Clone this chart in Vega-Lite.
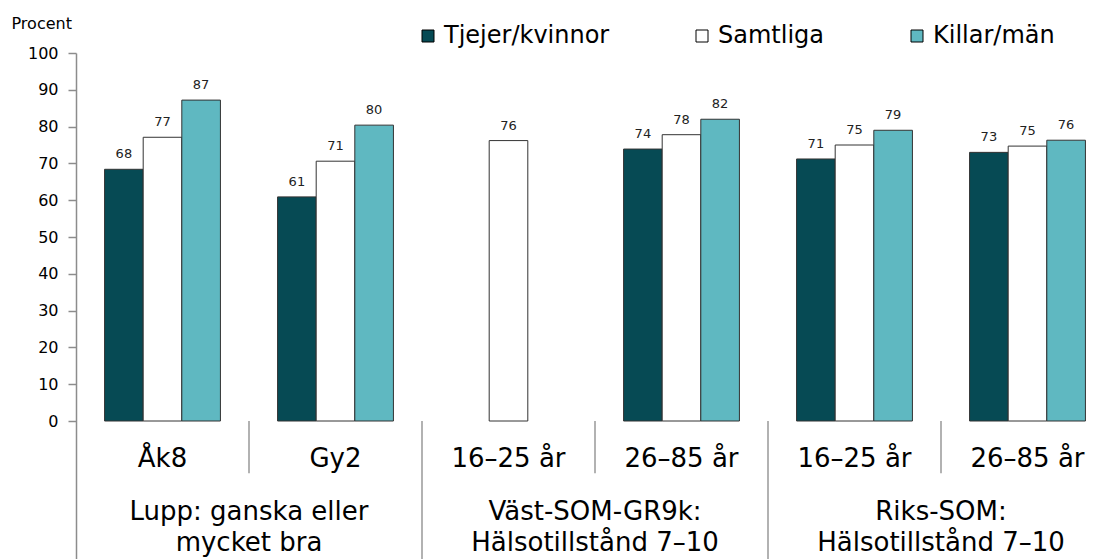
{
  "$schema": "https://vega.github.io/schema/vega-lite/v6.json",
  "width": 1031,
  "height": 506,
  "autosize": {"type": "none"},
  "padding": {"left": 76, "top": 53, "right": 0, "bottom": 0},
  "background": "#ffffff",
  "config": {"view": {"stroke": null}, "font": "DejaVu Sans"},
  "datasets": {
    "bars": [
      {"grp": "Åk8", "serie": "Tjejer/kvinnor", "value": 68.4},
      {"grp": "Åk8", "serie": "Samtliga", "value": 77.1},
      {"grp": "Åk8", "serie": "Killar/män", "value": 87.2},
      {"grp": "Gy2", "serie": "Tjejer/kvinnor", "value": 60.9},
      {"grp": "Gy2", "serie": "Samtliga", "value": 70.6},
      {"grp": "Gy2", "serie": "Killar/män", "value": 80.4},
      {"grp": "V16", "serie": "Samtliga", "value": 76.2},
      {"grp": "V26", "serie": "Tjejer/kvinnor", "value": 73.9},
      {"grp": "V26", "serie": "Samtliga", "value": 77.8},
      {"grp": "V26", "serie": "Killar/män", "value": 82.0},
      {"grp": "R16", "serie": "Tjejer/kvinnor", "value": 71.2},
      {"grp": "R16", "serie": "Samtliga", "value": 75.0},
      {"grp": "R16", "serie": "Killar/män", "value": 79.0},
      {"grp": "R26", "serie": "Tjejer/kvinnor", "value": 73.0},
      {"grp": "R26", "serie": "Samtliga", "value": 74.7},
      {"grp": "R26", "serie": "Killar/män", "value": 76.3}
    ],
    "cats": [
      {"grp": "Åk8", "label": "Åk8"},
      {"grp": "Gy2", "label": "Gy2"},
      {"grp": "V16", "label": "16–25 år"},
      {"grp": "V26", "label": "26–85 år"},
      {"grp": "R16", "label": "16–25 år"},
      {"grp": "R26", "label": "26–85 år"}
    ],
    "groups": [
      {"grp": "Gy2", "label": "Lupp: ganska eller\nmycket bra"},
      {"grp": "V26", "label": "Väst-SOM-GR9k:\nHälsotillstånd 7–10"},
      {"grp": "R26", "label": "Riks-SOM:\nHälsotillstånd 7–10"}
    ],
    "inner": [{"grp": "Gy2"}, {"grp": "V26"}, {"grp": "R26"}],
    "outer": [{"grp": "V16"}, {"grp": "R16"}]
  },
  "encoding": {
    "x": {
      "field": "grp",
      "type": "nominal",
      "axis": null,
      "scale": {
        "domain": ["Åk8", "Gy2", "V16", "V26", "R16", "R26"],
        "range": [0, 1038],
        "paddingInner": 0,
        "paddingOuter": 0
      }
    }
  },
  "layer": [
    {
      "data": {"name": "bars"},
      "mark": {"type": "bar", "stroke": "#333333", "strokeWidth": 1},
      "encoding": {
        "xOffset": {
          "field": "serie",
          "type": "nominal",
          "sort": ["Tjejer/kvinnor", "Samtliga", "Killar/män"],
          "scale": {"paddingInner": 0, "paddingOuter": 0.74}
        },
        "y": {
          "field": "value",
          "type": "quantitative",
          "scale": {"domain": [-37.5, 100], "nice": false, "zero": false},
          "axis": {
            "values": [0, 10, 20, 30, 40, 50, 60, 70, 80, 90, 100],
            "title": "Procent",
            "titleAngle": 0,
            "titleAlign": "left",
            "titleBaseline": "alphabetic",
            "titleX": -65,
            "titleY": -25,
            "titleFontSize": 16,
            "titleFontWeight": "normal",
            "titleColor": "#000000",
            "labelFontSize": 16,
            "labelColor": "#000000",
            "labelPadding": 10,
            "tickSize": 8,
            "tickColor": "#8c8c8c",
            "tickWidth": 1.5,
            "domainColor": "#8c8c8c",
            "domainWidth": 1.5,
            "grid": false
          }
        },
        "y2": {"datum": 0},
        "color": {
          "field": "serie",
          "type": "nominal",
          "sort": ["Tjejer/kvinnor", "Samtliga", "Killar/män"],
          "scale": {
            "domain": ["Tjejer/kvinnor", "Samtliga", "Killar/män"],
            "range": ["#064A54", "#FFFFFF", "#5FB8C1"]
          },
          "legend": {
            "orient": "none",
            "legendX": 340,
            "legendY": -29,
            "direction": "horizontal",
            "title": null,
            "symbolType": "square",
            "symbolSize": 144,
            "symbolStrokeColor": "#000000",
            "symbolStrokeWidth": 1,
            "symbolOpacity": 1,
            "labelFontSize": 24,
            "labelColor": "#000000",
            "labelOffset": 4,
            "columnPadding": 80,
            "labelLimit": 400
          }
        }
      }
    },
    {
      "data": {"name": "bars"},
      "mark": {"type": "text", "fontSize": 13, "color": "#222222", "baseline": "alphabetic", "dy": -11},
      "encoding": {
        "xOffset": {
          "field": "serie",
          "type": "nominal",
          "sort": ["Tjejer/kvinnor", "Samtliga", "Killar/män"],
          "scale": {"paddingInner": 0, "paddingOuter": 0.74}
        },
        "y": {"field": "value", "type": "quantitative"},
        "text": {"field": "value", "type": "quantitative", "format": ".0f"}
      }
    },
    {
      "mark": {"type": "rule", "color": "#8c8c8c", "strokeWidth": 2},
      "encoding": {"x": null, "y": {"datum": 0}}
    },
    {
      "data": {"name": "inner"},
      "mark": {"type": "rule", "color": "#999999", "strokeWidth": 1.5},
      "encoding": {
        "x": {"field": "grp", "type": "nominal", "bandPosition": 0},
        "y": {"datum": 0},
        "y2": {"datum": -14.2}
      }
    },
    {
      "data": {"name": "outer"},
      "mark": {"type": "rule", "color": "#999999", "strokeWidth": 1.5},
      "encoding": {
        "x": {"field": "grp", "type": "nominal", "bandPosition": 0},
        "y": {"datum": 0},
        "y2": {"datum": -37.5}
      }
    },
    {
      "data": {"name": "cats"},
      "mark": {"type": "text", "fontSize": 26, "color": "#000000", "baseline": "alphabetic"},
      "encoding": {
        "y": {"datum": -12.4},
        "text": {"field": "label", "type": "nominal"}
      }
    },
    {
      "data": {"name": "groups"},
      "mark": {"type": "text", "fontSize": 26, "color": "#000000", "baseline": "alphabetic", "lineBreak": "\n", "lineHeight": 31},
      "encoding": {
        "x": {"field": "grp", "type": "nominal", "bandPosition": 0},
        "y": {"datum": -26.9},
        "text": {"field": "label", "type": "nominal"}
      }
    }
  ]
}
